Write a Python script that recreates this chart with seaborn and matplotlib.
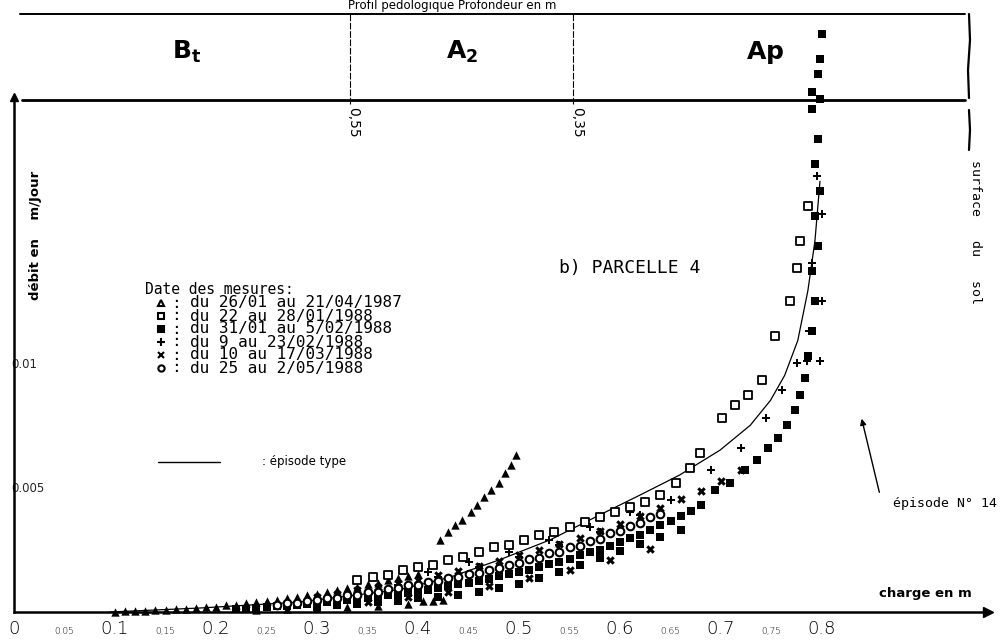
import matplotlib
matplotlib.use("Agg")
import matplotlib.pyplot as plt
import numpy as np
import pandas as pd
import seaborn as sns
from matplotlib.lines import Line2D

# ---------------- data ----------------
# charge en m (x) / débit en m/Jour (y)
tri_x = [0.10, 0.11, 0.12, 0.13, 0.14, 0.15, 0.16, 0.17, 0.18, 0.19, 0.20, 0.21, 0.22, 0.23,
         0.24, 0.25, 0.26, 0.27, 0.28, 0.29, 0.30, 0.31, 0.32, 0.33, 0.34, 0.35, 0.36, 0.37,
         0.38, 0.39, 0.40,
         0.24, 0.27, 0.30, 0.33, 0.36, 0.39, 0.405, 0.415, 0.425,
         0.422, 0.430, 0.437, 0.444, 0.452, 0.458, 0.465, 0.472, 0.480, 0.486, 0.492, 0.497]
tri_y = [0.00002, 0.00003, 0.00004, 0.00006, 0.00007, 0.00010, 0.00011, 0.00014, 0.00016,
         0.00020, 0.00022, 0.00027, 0.00030, 0.00035, 0.00039, 0.00045, 0.00050, 0.00056,
         0.00061, 0.00069, 0.00074, 0.00082, 0.00088, 0.00096, 0.00102, 0.00111, 0.00118,
         0.00127, 0.00135, 0.00145, 0.00153,
         0.00008, 0.00012, 0.00016, 0.00020, 0.00026, 0.00032, 0.00045, 0.00046, 0.00047,
         0.0029, 0.0032, 0.0035, 0.0037, 0.0040, 0.0043, 0.0046, 0.0049, 0.0052, 0.0056,
         0.0059, 0.0063]

osq_x = [0.34, 0.355, 0.37, 0.385, 0.40, 0.415, 0.43, 0.445, 0.46, 0.475, 0.49, 0.505, 0.52,
         0.535, 0.55, 0.565, 0.58, 0.595, 0.61, 0.625, 0.64, 0.655, 0.669, 0.679, 0.701,
         0.714, 0.727, 0.741, 0.753, 0.768, 0.775, 0.778, 0.786]
osq_y = [0.0013, 0.0014, 0.0015, 0.0017, 0.0018, 0.0019, 0.0021, 0.0022, 0.0024, 0.0026,
         0.0027, 0.0029, 0.0031, 0.0032, 0.0034, 0.0036, 0.0038, 0.0040, 0.0042, 0.0044,
         0.0047, 0.0052, 0.0058, 0.0064, 0.0078, 0.0083, 0.0087, 0.0093, 0.0111, 0.0125,
         0.0138, 0.0149, 0.0163]

fsq_x = [0.22, 0.23, 0.24, 0.25, 0.26, 0.27, 0.28, 0.29, 0.30, 0.31, 0.32, 0.33, 0.34, 0.35,
         0.36, 0.37, 0.38, 0.39, 0.40, 0.41, 0.42, 0.43, 0.44, 0.45, 0.46, 0.47, 0.48, 0.49,
         0.50, 0.51, 0.52, 0.53, 0.54, 0.55, 0.56, 0.57, 0.58, 0.59, 0.60, 0.61, 0.62, 0.63,
         0.64, 0.65, 0.66, 0.67, 0.68,
         0.30, 0.32, 0.34, 0.36, 0.38, 0.40, 0.42, 0.44, 0.46, 0.48, 0.50, 0.52, 0.54, 0.56,
         0.58, 0.60, 0.62, 0.64, 0.66,
         0.694, 0.709, 0.724, 0.736, 0.747, 0.756, 0.765, 0.773, 0.778, 0.783, 0.786, 0.790,
         0.793, 0.790, 0.796, 0.793, 0.798, 0.793, 0.796, 0.790, 0.798, 0.790, 0.796, 0.798,
         0.800]
fsq_y = [0.00012, 0.00014, 0.00018, 0.00019, 0.00023, 0.00026, 0.00028, 0.00033, 0.00037,
         0.00040, 0.00045, 0.00048, 0.00052, 0.00057, 0.00063, 0.00067, 0.00071, 0.00078,
         0.00085, 0.00090, 0.00095, 0.00103, 0.00111, 0.00117, 0.00124, 0.00133, 0.00143,
         0.00151, 0.00159, 0.00170, 0.00181, 0.00191, 0.00200, 0.00214, 0.00227, 0.00239,
         0.00250, 0.00266, 0.00282, 0.00296, 0.00310, 0.00329, 0.00348, 0.00366, 0.00385,
         0.00407, 0.00430,
         0.00022, 0.00027, 0.00033, 0.00040, 0.00046, 0.00055, 0.00062, 0.00070, 0.00082,
         0.00095, 0.00112, 0.00135, 0.00160, 0.00188, 0.00215, 0.00245, 0.00275, 0.00300,
         0.00330,
         0.0049, 0.0052, 0.0057, 0.0061, 0.0066, 0.0070, 0.0075, 0.0081, 0.0087, 0.0094,
         0.0103, 0.0113, 0.0125, 0.0137, 0.0147, 0.0159, 0.0169, 0.0180, 0.0190, 0.0202,
         0.0206, 0.0209, 0.0216, 0.0222, 0.0232]

plus_x = [0.36, 0.38, 0.42, 0.46, 0.50, 0.54, 0.58, 0.62, 0.65, 0.69, 0.72, 0.745, 0.760,
          0.775, 0.785, 0.798, 0.787, 0.800, 0.790, 0.800, 0.795,
          0.41, 0.45, 0.49, 0.53, 0.57, 0.61]
plus_y = [0.0008, 0.0011, 0.0014, 0.0018, 0.0022, 0.0027, 0.0032, 0.0039, 0.0045, 0.0057,
          0.0066, 0.0078, 0.0089, 0.0100, 0.0101, 0.0101, 0.0113, 0.0125, 0.0140, 0.0160,
          0.0175,
          0.0016, 0.0020, 0.0024, 0.0029, 0.0034, 0.0040]

cross_x = [0.30, 0.32, 0.34, 0.36, 0.38, 0.40, 0.42, 0.44, 0.46, 0.48, 0.50, 0.52, 0.54,
           0.56, 0.58, 0.60, 0.62, 0.64, 0.66, 0.68, 0.70, 0.72,
           0.35, 0.39, 0.43, 0.47, 0.51, 0.55, 0.59, 0.63]
cross_y = [0.00062, 0.00074, 0.00089, 0.00100, 0.00117, 0.00130, 0.00149, 0.00165, 0.00186,
           0.00204, 0.00227, 0.00248, 0.00274, 0.00297, 0.00326, 0.00353, 0.00386, 0.00417,
           0.00453, 0.00487, 0.00526, 0.00570,
           0.00040, 0.00060, 0.00080, 0.00105, 0.00135, 0.00170, 0.00210, 0.00255]

circ_x = [0.26, 0.27, 0.28, 0.29, 0.30, 0.31, 0.32, 0.33, 0.34, 0.35, 0.36, 0.37, 0.38, 0.39,
          0.40, 0.41, 0.42, 0.43, 0.44, 0.45, 0.46, 0.47, 0.48, 0.49, 0.50, 0.51, 0.52, 0.53,
          0.54, 0.55, 0.56, 0.57, 0.58, 0.59, 0.60, 0.61, 0.62, 0.63, 0.64]
circ_y = [0.00030, 0.00036, 0.00038, 0.00046, 0.00050, 0.00057, 0.00058, 0.00068, 0.00070,
          0.00080, 0.00082, 0.00093, 0.00095, 0.00107, 0.00109, 0.00121, 0.00124, 0.00137,
          0.00140, 0.00153, 0.00156, 0.00170, 0.00175, 0.00190, 0.00196, 0.00212, 0.00218,
          0.00235, 0.00241, 0.00260, 0.00267, 0.00287, 0.00295, 0.00316, 0.00325, 0.00347,
          0.00358, 0.00381, 0.00393]

curve_x = [0.095, 0.184, 0.283, 0.382, 0.432, 0.481, 0.531, 0.580, 0.620, 0.659, 0.699, 0.729,
           0.749, 0.763, 0.776, 0.786, 0.793, 0.798]
curve_y = [0.0, 0.00016, 0.0004, 0.0009, 0.0014, 0.0021, 0.0029, 0.0039, 0.0047, 0.0055,
           0.0065, 0.0075, 0.0085, 0.0095, 0.0109, 0.0129, 0.0149, 0.0173]

legend_labels = ["du 26/01 au 21/04/1987", "du 22 au 28/01/1988", "du 31/01 au 5/02/1988",
                 "du 9 au 23/02/1988", "du 10 au 17/03/1988", "du 25 au 2/05/1988"]

x_major = [0.0, 0.1, 0.2, 0.3, 0.4, 0.5, 0.6, 0.7, 0.8]
x_major_labels = ["0", "0.1", "0.2", "0.3", "0.4", "0.5", "0.6", "0.7", "0.8"]
x_minor = [0.05, 0.15, 0.25, 0.35, 0.45, 0.55, 0.65, 0.75, 0.85, 0.90]
x_minor_labels = ["0.05", "0,15", "0,25", "0,35", "0.45", "0.55", "0.65", "0,75", "", ""]
y_major = [0.005, 0.01]
y_major_labels = ["0.005", "0.01"]
y_minor = [i / 1000 for i in range(1, 21)]

horizons = ["$\\mathbf{B_t}$", "$\\mathbf{A_2}$", "$\\mathbf{Ap}$"]
depths = ["0,55", "0,35"]

# ---------------- figure ----------------
W, H = 1002, 640
sns.set_theme(style="white")
plt.rcParams["font.family"] = ["DejaVu Sans"]
plt.rcParams["mathtext.fontset"] = "dejavusans"

fig = plt.figure(figsize=(W / 100, H / 100), dpi=100)
ax = fig.add_axes([0, 0, 1, 1])
X0, XS = 14, 1010.0
Y0, YS = 612, 24900.0
ax.set_xlim(-X0 / XS, (W - X0) / XS)
ax.set_ylim(-(H - Y0) / YS, Y0 / YS)
ax.set_facecolor("white")


def fx(p):
    return p / W


def fy(p):
    return 1 - p / H


def fline(xs, ys, **kw):
    fig.add_artist(Line2D([fx(v) for v in xs], [fy(v) for v in ys], color="black", **kw))


def ftext(x, y, s, **kw):
    fig.text(fx(x), fy(y), s, color="black", **kw)


# scatter series
sns.scatterplot(x=tri_x, y=tri_y, marker="^", s=36, color="black", linewidth=0, ax=ax, zorder=3)
sns.scatterplot(x=fsq_x, y=fsq_y, marker="s", s=34, color="black", linewidth=0, ax=ax, zorder=3)
sns.scatterplot(x=cross_x, y=cross_y, marker="X", s=38, color="black", linewidth=0, ax=ax, zorder=3)
sns.scatterplot(x=plus_x, y=plus_y, marker="P", s=34, color="black", linewidth=0, ax=ax, zorder=3)
sns.scatterplot(x=osq_x, y=osq_y, marker="s", s=30, facecolor="white", edgecolor="black",
                linewidth=1.3, ax=ax, zorder=4)
sns.scatterplot(x=circ_x, y=circ_y, marker="o", s=30, facecolor="white", edgecolor="black",
                linewidth=1.5, ax=ax, zorder=4)
sns.lineplot(x=curve_x, y=curve_y, color="black", linewidth=0.9, ax=ax, zorder=2)

# axes as arrows through origin
for s in ["top", "right"]:
    ax.spines[s].set_visible(False)
ax.spines["bottom"].set_position(("data", 0))
ax.spines["left"].set_position(("data", 0))
x_end = (988 - X0) / XS
y_end = (Y0 - 97) / YS
ax.spines["bottom"].set_bounds(0, x_end)
ax.spines["left"].set_bounds(0, y_end)
for s in ["bottom", "left"]:
    ax.spines[s].set_linewidth(1.8)
    ax.spines[s].set_color("black")
ax.plot([x_end], [0], marker=">", ms=7, color="black", clip_on=False)
ax.plot([0], [y_end], marker="^", ms=6, color="black", clip_on=False)

ax.set_xticks(x_major, labels=x_major_labels)
ax.set_xticks(x_minor, labels=x_minor_labels, minor=True)
ax.tick_params(axis="x", which="major", direction="inout", length=6, width=1, labelsize=13, pad=3)
ax.tick_params(axis="x", which="minor", direction="inout", length=6, width=1, labelsize=6.5, pad=8)
ax.set_yticks(y_major, labels=y_major_labels)
ax.set_yticks(y_minor, minor=True)
ax.tick_params(axis="y", which="both", direction="out", length=4, width=1, labelsize=8.5, pad=-2)
for lab in ax.get_yticklabels():
    lab.set_ha("left")
for lab in ax.get_xticklabels(which="both"):
    lab.set_color("black")
    lab.set_fontweight("light")

# header band (soil profile)
fline([20, 965], [14, 14], lw=1.4)
fline([22, 965], [100, 100], lw=2.0)
fline([350, 350], [14, 104], lw=0.8, ls=(0, (6, 1.5)))
fline([573, 573], [14, 104], lw=0.8, ls=(0, (6, 1.5)))
fline([969, 970, 968, 969], [14, 40, 70, 98], lw=1.6)
fline([969, 970, 969], [110, 130, 150], lw=1.6)
ftext(452, 6, "Profil pedologique Profondeur en m", fontsize=8.5, ha="center", va="center")
for xp, lab in zip([187, 462, 765], horizons):
    ftext(xp, 52, lab, fontsize=18, ha="center", va="center")
for xp, lab in zip([353, 577], depths):
    ftext(xp, 122, lab, fontsize=10, rotation=270, ha="center", va="center")

# axis titles and annotations
ftext(35, 235, "débit en    m/Jour", fontsize=9.5, fontweight="bold", rotation=90,
      ha="center", va="center")
ftext(975, 232, "surface   du   sol", fontsize=9.5, rotation=270, ha="center",
      va="center", family="DejaVu Sans Mono")
ftext(925, 593, "charge en m", fontsize=9.5, fontweight="bold", ha="center", va="center")
ftext(630, 268, "b) PARCELLE 4", fontsize=13, ha="center", va="center", family="DejaVu Sans Mono")

# legend block
ftext(145, 290, "Date des mesures:", fontsize=10.5, ha="left", va="center",
      family="DejaVu Sans Mono")
leg_y = [303, 316, 329, 342, 355, 368]
leg_m = [("^", "white", 4.5), ("s", "white", 4.5), ("s", "black", 4.5),
         ("+", "black", 5.5), ("x", "black", 5), ("o", "white", 4.5)]
for yy, (m, fc, ms), lab in zip(leg_y, leg_m, legend_labels):
    fig.add_artist(Line2D([fx(161)], [fy(yy)], marker=m, ms=ms, mfc=fc, mec="black",
                          mew=1.5, ls="none"))
    ftext(171, yy, ":", fontsize=11.5, ha="left", va="center", family="DejaVu Sans Mono")
    ftext(190, yy, lab, fontsize=11.5, ha="left", va="center", family="DejaVu Sans Mono")
fline([158, 220], [462, 462], lw=1.0)
ftext(262, 462, ": épisode type", fontsize=8.5, ha="left", va="center")

# episode N° 14 pointer
ax.annotate("", xy=((861 - X0) / XS, (Y0 - 416) / YS), xytext=((880 - X0) / XS, (Y0 - 495) / YS),
            arrowprops=dict(arrowstyle="-|>", color="black", lw=1.0, mutation_scale=9))
ftext(893, 504, "épisode N° 14", fontsize=9.5, ha="left", va="center", family="DejaVu Sans Mono")

fig.savefig("out.png", dpi=100, facecolor="white")
